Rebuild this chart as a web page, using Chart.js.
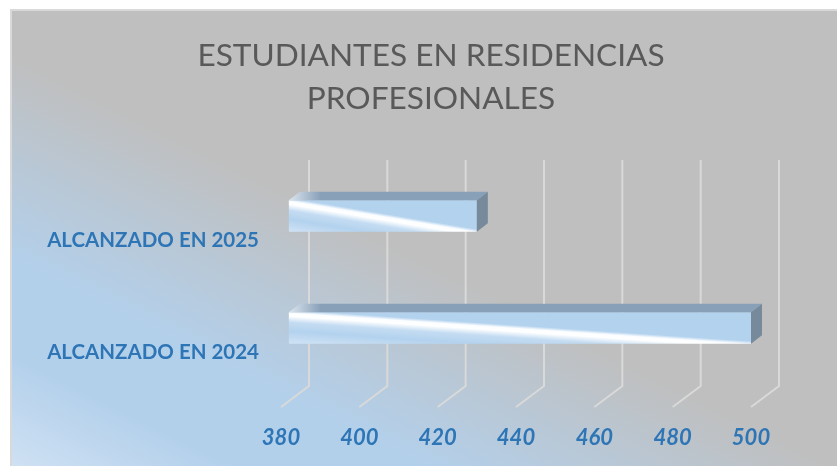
<!DOCTYPE html>
<html>
<head>
<meta charset="utf-8">
<script src="https://cdn.jsdelivr.net/npm/chart.js@4"></script>
<style>
  html, body { margin: 0; padding: 0; background: #fff; overflow: hidden; }
  #wrap { position: absolute; left: 10px; top: 9px; width: 842px; height: 457px; }
</style>
</head>
<body>
<div id="wrap"><canvas id="myChart" width="842" height="457"></canvas></div>
<script>
const titleLines = ['ESTUDIANTES EN RESIDENCIAS', 'PROFESIONALES'];
const categories = ['ALCANZADO EN 2025', 'ALCANZADO EN 2024'];
const values = [430, 500];
const axisMin = 380;
const axisMax = 500;
const axisStep = 20;
const barStart = 382;

const depthGrid = { x: 28, y: -21 };
const depthBar = { x: 11, y: -8.5 };

// plot background: grey with the blue wash coming from the lower left
const background = {
  id: 'background',
  beforeDraw(chart) {
    const { ctx, width, height } = chart;
    const g = ctx.createLinearGradient(0, height, 165, height - 330);
    g.addColorStop(0, '#cfe1f3');
    g.addColorStop(0.27, '#b3d0eb');
    g.addColorStop(0.5, '#b3d0eb');
    g.addColorStop(1, '#bfbfbf');
    ctx.save();
    ctx.fillStyle = g;
    ctx.fillRect(0, 0, width, height);
    ctx.strokeStyle = '#d9d9d9';
    ctx.lineWidth = 2;
    ctx.strokeRect(1, 1, width - 2, height);
    ctx.restore();
  }
};

// y labels hang out past the padded box, so stop the scale clipping them
const labelArea = {
  id: 'labelArea',
  afterLayout(chart) {
    chart.scales.y.left = 0;
  }
};

// 3D walls: back grid lines plus their run across the floor
const grid3d = {
  id: 'grid3d',
  beforeDatasetsDraw(chart) {
    const { ctx, chartArea, scales } = chart;
    ctx.save();
    ctx.strokeStyle = '#d9d9d9';
    ctx.lineWidth = 2;
    scales.x.ticks.forEach(t => {
      const x = scales.x.getPixelForValue(t.value);
      const floorY = chartArea.bottom + 23;
      ctx.beginPath();
      ctx.moveTo(x + depthGrid.x, chartArea.top);
      ctx.lineTo(x + depthGrid.x, floorY + depthGrid.y);
      ctx.lineTo(x, floorY);
      ctx.stroke();
    });
    ctx.restore();
  }
};

// top and side faces of each bar
const barFaces = {
  id: 'barFaces',
  afterDatasetsDraw(chart) {
    const { ctx } = chart;
    chart.getDatasetMeta(0).data.forEach(bar => {
      const left = bar.base;
      const right = bar.x;
      const top = bar.y - bar.height / 2;
      const bottom = bar.y + bar.height / 2;
      const topFace = ctx.createLinearGradient(left, 0, left + 32, 0);
      topFace.addColorStop(0, '#dce6ef');
      topFace.addColorStop(1, '#88a0b8');
      ctx.save();
      ctx.fillStyle = topFace;
      ctx.beginPath();
      ctx.moveTo(left, top);
      ctx.lineTo(left + depthBar.x, top + depthBar.y);
      ctx.lineTo(right + depthBar.x, top + depthBar.y);
      ctx.lineTo(right, top);
      ctx.closePath();
      ctx.fill();
      ctx.fillStyle = '#778a9b';
      ctx.beginPath();
      ctx.moveTo(right, top);
      ctx.lineTo(right + depthBar.x, top + depthBar.y);
      ctx.lineTo(right + depthBar.x, bottom + depthBar.y);
      ctx.lineTo(right, bottom);
      ctx.closePath();
      ctx.fill();
      ctx.restore();
    });
  }
};

// front face: white band just under the bar's own diagonal
function frontFill(c) {
  const { chart, dataIndex, dataset } = c;
  if (!chart.chartArea || dataIndex === undefined) return '#b3d2ee';
  const sx = chart.scales.x;
  const sy = chart.scales.y;
  const left = sx.getPixelForValue(dataset.base);
  const w = sx.getPixelForValue(dataset.data[dataIndex]) - left;
  const h = (chart.chartArea.height / categories.length) * dataset.barPercentage;
  const cx = left + w / 2;
  const cy = sy.getPixelForValue(dataIndex);
  const len = Math.hypot(w, h);
  const d = w * h / len;
  const nx = h / len;
  const ny = -w / len;
  const g = chart.ctx.createLinearGradient(cx + nx * d, cy + ny * d, cx - nx * d, cy - ny * d);
  g.addColorStop(0, '#b3d2ee');
  g.addColorStop(0.46, '#b3d2ee');
  g.addColorStop(0.51, '#fbfdff');
  g.addColorStop(0.56, '#ffffff');
  g.addColorStop(0.66, '#c4dcf2');
  g.addColorStop(0.8, '#b3d2ee');
  g.addColorStop(1, '#d0e3f5');
  return g;
}

new Chart(document.getElementById('myChart').getContext('2d'), {
  type: 'bar',
  data: {
    labels: categories,
    datasets: [{
      data: values,
      base: barStart,
      backgroundColor: frontFill,
      borderWidth: 0,
      barPercentage: 0.28,
      categoryPercentage: 1
    }]
  },
  plugins: [background, labelArea, grid3d, barFaces],
  options: {
    indexAxis: 'y',
    responsive: false,
    animation: false,
    layout: { padding: { left: 101, right: 101, top: 0, bottom: 0 } },
    plugins: {
      legend: { display: false },
      tooltip: { enabled: false },
      title: {
        display: true,
        text: titleLines,
        color: '#595959',
        font: { family: 'Lato', size: 31.6, weight: 'normal', lineHeight: 1.36 },
        padding: { top: 25, bottom: 40 }
      }
    },
    scales: {
      x: {
        type: 'linear',
        min: axisMin,
        max: axisMax,
        grid: { display: false },
        border: { display: false },
        afterFit(scale) { scale.height = 82; },
        ticks: {
          stepSize: axisStep,
          padding: 33,
          maxRotation: 0,
          color: '#2e75b6',
          font: { family: 'Lato', size: 22, style: 'italic', weight: 'bold' }
        }
      },
      y: {
        grid: { display: false },
        border: { display: false },
        afterFit(scale) { scale.width = 170; },
        ticks: {
          padding: 14,
          labelOffset: 24,
          color: '#2e75b6',
          font: { family: 'Lato', size: 20.5, weight: 'bold' }
        }
      }
    }
  }
});
</script>
</body>
</html>
